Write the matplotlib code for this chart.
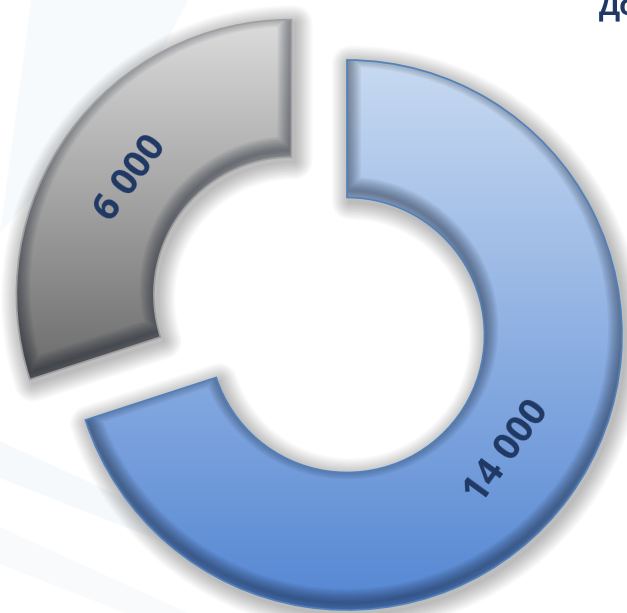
import numpy as np
import matplotlib
matplotlib.use("Agg")
import matplotlib.pyplot as plt
from matplotlib.colors import LinearSegmentedColormap
from matplotlib.patches import PathPatch, Polygon
from matplotlib.transforms import offset_copy

# chart data
values = [14000, 6000]
labels = ['14 000', '6 000']
explode = [0.0, 0.25]
top_colors = ['#c8daf1', '#dcdcdc']
bottom_colors = ['#5486d3', '#6a6a6a']
edge_colors = ['#4f81bd', '#a0a0a0']
title = 'Доля'

W, H = 627, 613
fig = plt.figure(figsize=(W / 100, H / 100), dpi=100)
fig.patch.set_facecolor('white')
ax = fig.add_axes([0, 0, 1, 1])

# faint background streaks
ax.add_patch(Polygon([(0, 0.62), (0.25, 0.9), (0.3, 1.0), (0.05, 1.0)],
                     transform=ax.transAxes, fc='#f1f6fb', ec='none', alpha=0.5, zorder=0))
ax.add_patch(Polygon([(0, 0.22), (0.55, 0.0), (0.6, 0.0), (0, 0.28)],
                     transform=ax.transAxes, fc='#eef4fa', ec='none', alpha=0.5, zorder=0))
ax.add_patch(Polygon([(0, 0.08), (0.2, 0.0), (0.3, 0.0), (0, 0.14)],
                     transform=ax.transAxes, fc='#f2f6fb', ec='none', alpha=0.5, zorder=0))

ring = 0.5
wedges, _ = ax.pie(values, startangle=90, counterclock=False, explode=explode,
                   radius=1.0, colors=bottom_colors,
                   wedgeprops=dict(width=ring, linewidth=0))

# pixel geometry -> data limits (1 data unit = 275 px)
scale = 275.0
cx, cy = 347.0, 335.0
ax.set_xlim(-cx / scale, (W - cx) / scale)
ax.set_ylim(-(H - cy) / scale, cy / scale)
ax.set_aspect('equal', adjustable='datalim')
ax.axis('off')

shadow_tr = offset_copy(ax.transData, fig, x=3, y=-4, units='dots')
inner_tr = offset_copy(ax.transData, fig, x=0, y=7, units='dots')

for i, w in enumerate(wedges):
    path = w.get_path()
    w.set_zorder(3)
    # soft outer shadow
    for lw in np.linspace(26, 2, 12):
        ax.add_patch(PathPatch(path, fc='none', ec='black', lw=lw, alpha=0.022,
                               joinstyle='round', transform=shadow_tr, zorder=1))
    ax.add_patch(PathPatch(path, fc='#bdbdbd', ec='none', transform=shadow_tr, zorder=1))

    # vertical gradient fill clipped to wedge
    v = path.vertices
    x0, x1 = v[:, 0].min(), v[:, 0].max()
    y0, y1 = v[:, 1].min(), v[:, 1].max()
    cmap = LinearSegmentedColormap.from_list('g%d' % i, [bottom_colors[i], top_colors[i]])
    grad = np.linspace(0, 1, 256).reshape(-1, 1)
    im = ax.imshow(grad, cmap=cmap, extent=(x0, x1, y0, y1), origin='lower',
                   aspect='auto', zorder=4, interpolation='bilinear')
    im.set_clip_path(w)

    # inner shadow (darkens lower edges)
    for lw in np.linspace(20, 2, 10):
        p = PathPatch(path, fc='none', ec='#101828', lw=lw, alpha=0.05,
                      joinstyle='round', transform=inner_tr, zorder=5)
        ax.add_patch(p)
        p.set_clip_path(w)

    ax.add_patch(PathPatch(path, fc='none', ec=edge_colors[i], lw=1.2, zorder=6))

# value labels along the ring
total = sum(values)
start = 90.0
for i, val in enumerate(values):
    span = 360.0 * val / total
    mid = np.deg2rad(start - span / 2)
    r = 0.72
    off = explode[i]
    x = (r + off) * np.cos(mid)
    y = (r + off) * np.sin(mid)
    rot = (np.rad2deg(mid) + 90 + 90) % 180 - 90
    ax.text(x, y, labels[i], rotation=rot, rotation_mode='anchor',
            ha='center', va='center', fontsize=27, fontweight='bold',
            family='Open Sans', color='#1f3864', zorder=8)
    start -= span

# title text, cut off at the right edge as in the source
fig.text(599 / W, 1 - 14 / H, title, ha='left', va='baseline', fontsize=20,
         fontweight='bold', family='Open Sans', color='#1f3864')

fig.savefig('out.png', dpi=100, facecolor='white')
